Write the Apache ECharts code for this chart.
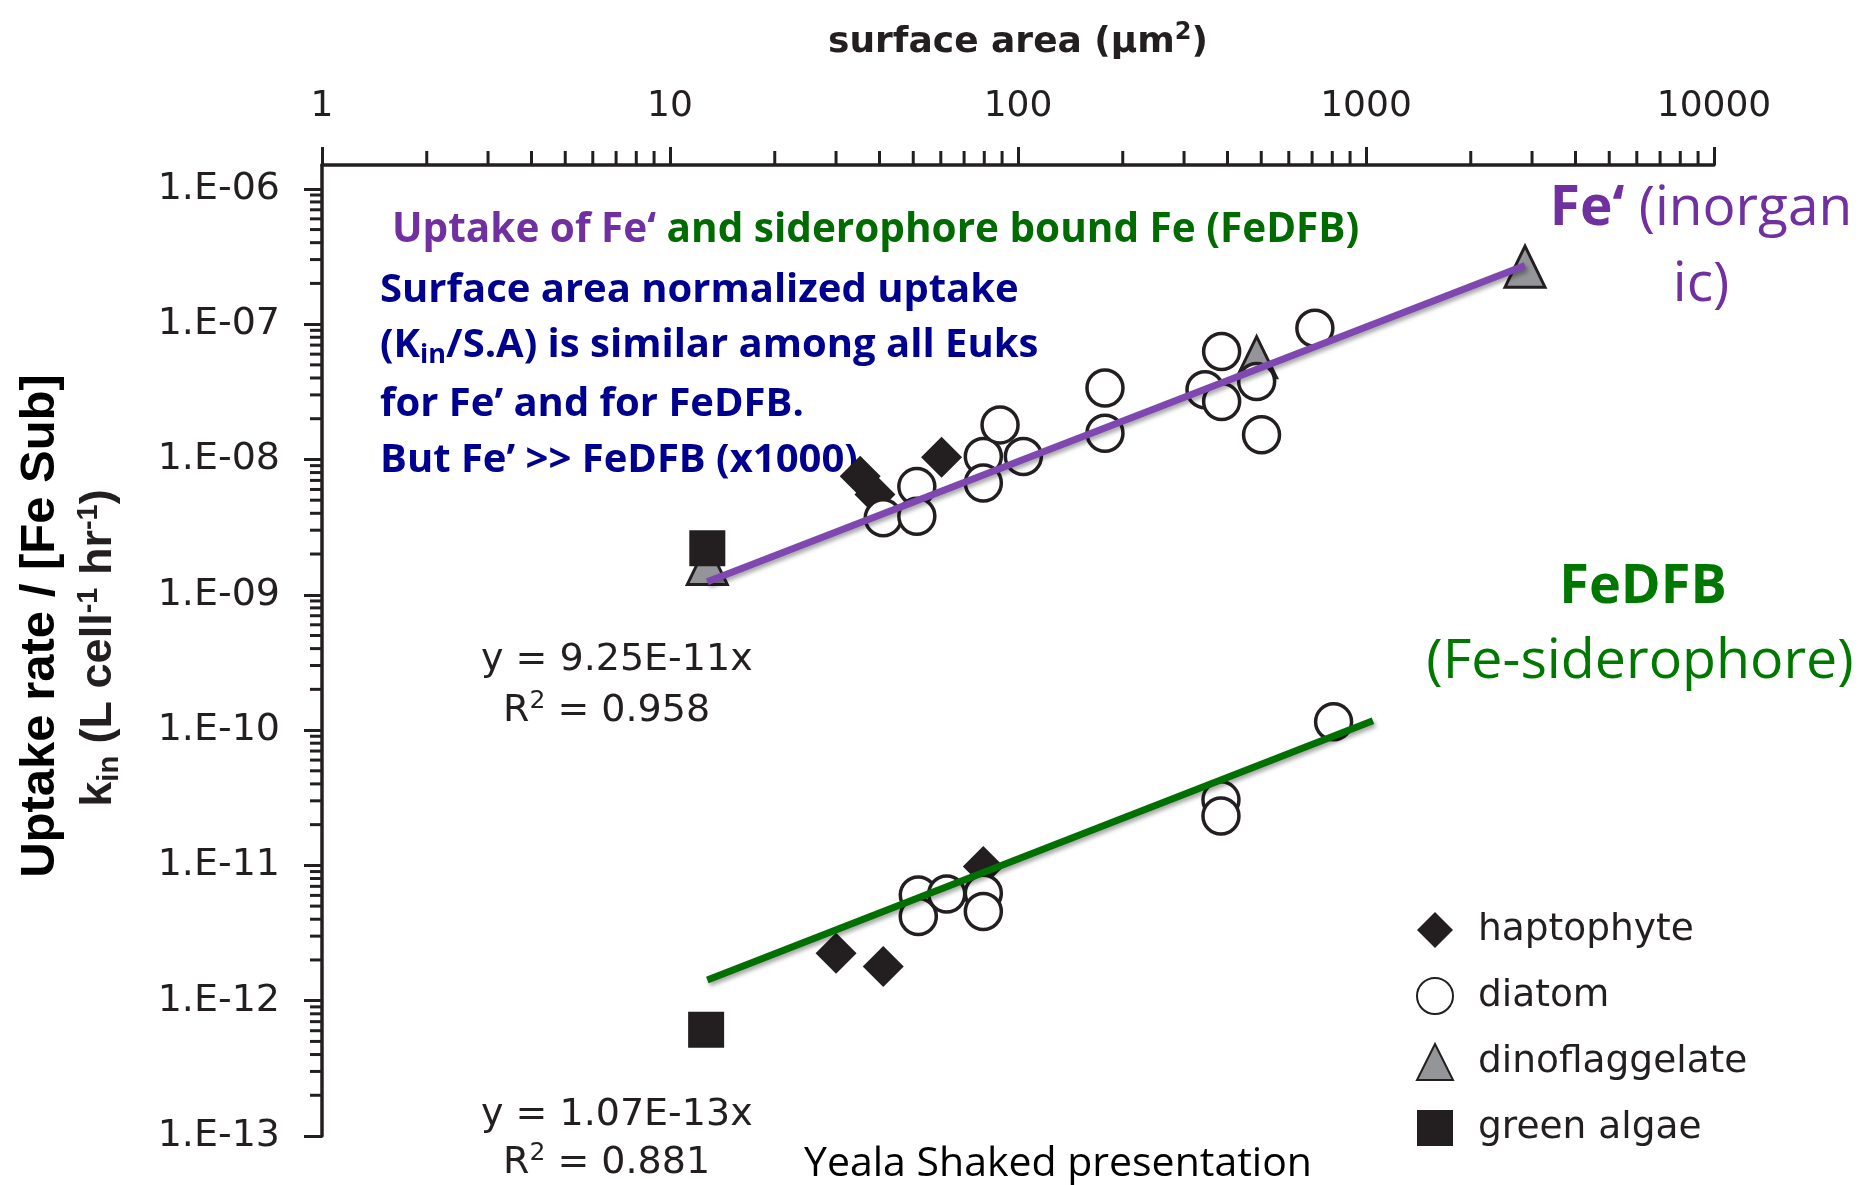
<!DOCTYPE html>
<html>
<head>
<meta charset="utf-8">
<script src="https://cdn.jsdelivr.net/npm/echarts@6.0.0/dist/echarts.min.js"></script>
<style>
  html, body { margin: 0; padding: 0; background: #ffffff; }
  #chart { width: 1864px; height: 1185px; }
</style>
</head>
<body>
<div id="chart"></div>
<script>
// tick labels
var xTickLabels = ['1', '10', '100', '1000', '10000'];
var yTickLabels = ['1.E-13', '1.E-12', '1.E-11', '1.E-10', '1.E-09', '1.E-08', '1.E-07', '1.E-06'];
// minor ticks: 2..9 inside each decade
var minorSteps = [2, 3, 4, 5, 6, 7, 8, 9];
var xDecades = [1, 10, 100, 1000];
var yDecades = [1e-13, 1e-12, 1e-11, 1e-10, 1e-9, 1e-8, 1e-7];
var xMin = 1, xMax = 10000, yMin = 1e-13, yMax = 1.5e-6;

// [surface area um2, kin L cell-1 hr-1], upper cloud = Fe', lower cloud = FeDFB
var haptophyte = [[35.2, 7.5e-9], [38.8, 5.5e-9], [60.3, 1.04e-8],
                  [30.0, 2.24e-12], [41.0, 1.79e-12], [79.5, 9.8e-12]];
var diatom = [[41.0, 3.7e-9], [51.2, 6.3e-9], [51.2, 3.8e-9], [79.5, 1.05e-8], [79.5, 6.7e-9],
              [88.8, 1.8e-8], [103.6, 1.05e-8], [177.8, 3.37e-8], [177.8, 1.56e-8], [344.6, 3.27e-8],
              [384.7, 6.28e-8], [384.7, 2.68e-8], [485, 3.77e-8], [501, 1.52e-8], [713, 9.33e-8],
              [51.7, 6.05e-12], [51.7, 4.19e-12], [62.4, 6.15e-12], [79.5, 6.22e-12], [79.5, 4.56e-12],
              [383, 3.05e-11], [383, 2.32e-11], [807, 1.15e-10]];
var dinoflaggelate = [[12.8, 1.69e-9], [485, 5.7e-8], [2864, 2.66e-7]];
var greenAlgae = [[12.8, 2.21e-9], [12.7, 6.1e-13]];
// regression lines (end points)
var fitFe = [[12.8, 1.25e-9], [2864, 2.71e-7]];
var fitFeDFB = [[12.8, 1.42e-12], [1047, 1.17e-10]];

var ink = '#231f20';

function minorList(decades) {
  var out = [];
  decades.forEach(function (d) {
    minorSteps.forEach(function (s) { out.push(d * s); });
  });
  return out;
}
var xMinor = minorList(xDecades).map(function (v) { return [v, yMax]; });
var yMinor = minorList(yDecades).map(function (v) { return [xMin, v]; });

function logIndex(v) {
  var l = Math.log10(v);
  var e = Math.round(l);
  return Math.abs(l - e) < 1e-6 ? e : null;
}

var myChart = echarts.init(document.getElementById('chart'));

var option = {
  animation: false,
  backgroundColor: '#ffffff',
  grid: { left: 322, right: 150, top: 165, bottom: 49 },
  xAxis: {
    type: 'log',
    logBase: 10,
    position: 'top',
    min: xMin,
    max: xMax,
    name: '{t|surface area (µm}{s|2}{t|)}',
    nameLocation: 'middle',
    nameGap: 100,
    nameTextStyle: {
      rich: {
        t: { fontFamily: 'DejaVu Sans', fontWeight: 'bold', fontSize: 36, color: ink, lineHeight: 44 },
        s: { fontFamily: 'DejaVu Sans', fontWeight: 'bold', fontSize: 24, color: ink, lineHeight: 24, verticalAlign: 'top' }
      }
    },
    axisLine: { lineStyle: { color: ink, width: 3.5 } },
    axisTick: { inside: false, length: 18, lineStyle: { color: ink, width: 3 } },
    axisLabel: {
      margin: 40,
      fontFamily: 'DejaVu Sans',
      fontSize: 36,
      color: ink,
      formatter: function (v) {
        var e = logIndex(v);
        return (e !== null && xTickLabels[e]) || '';
      }
    },
    splitLine: { show: false }
  },
  yAxis: {
    type: 'log',
    logBase: 10,
    min: yMin,
    max: yMax,
    axisLine: { lineStyle: { color: ink, width: 3.5 } },
    axisTick: { inside: false, length: 18, lineStyle: { color: ink, width: 3 } },
    axisLabel: {
      margin: 42,
      showMaxLabel: false,
      fontFamily: 'DejaVu Sans',
      fontSize: 38,
      color: ink,
      formatter: function (v) {
        var e = logIndex(v);
        return (e !== null && yTickLabels[e + 13]) || '';
      }
    },
    splitLine: { show: false }
  },
  legend: {
    orient: 'vertical',
    left: 1411,
    top: 906,
    itemWidth: 36,
    itemHeight: 36,
    itemGap: 28,
    selectedMode: false,
    data: ['haptophyte', 'diatom', 'dinoflaggelate', 'green algae'],
    textStyle: { fontFamily: 'DejaVu Sans', fontSize: 37.5, color: ink, padding: [0, 0, 0, 20] }
  },
  series: [
    {
      name: 'x minor ticks', type: 'custom', silent: true, data: xMinor,
      renderItem: function (params, api) {
        var p = api.coord([api.value(0), api.value(1)]);
        return { type: 'line', shape: { x1: p[0], y1: p[1], x2: p[0], y2: p[1] - 14 },
                 style: { stroke: ink, lineWidth: 3 } };
      }
    },
    {
      name: 'y minor ticks', type: 'custom', silent: true, data: yMinor,
      renderItem: function (params, api) {
        var p = api.coord([api.value(0), api.value(1)]);
        return { type: 'line', shape: { x1: p[0] - 12, y1: p[1], x2: p[0], y2: p[1] },
                 style: { stroke: ink, lineWidth: 3 } };
      }
    },
    {
      name: 'haptophyte', type: 'scatter', data: haptophyte,
      symbol: 'diamond', symbolSize: 41,
      itemStyle: { color: ink, opacity: 1 }
    },
    {
      name: 'dinoflaggelate', type: 'scatter', data: dinoflaggelate,
      symbol: 'triangle', symbolSize: [40, 41],
      itemStyle: { color: '#939598', borderColor: ink, borderWidth: 3, opacity: 1 }
    },
    {
      name: 'green algae', type: 'scatter', data: greenAlgae,
      symbol: 'rect', symbolSize: 36,
      itemStyle: { color: ink, opacity: 1 }
    },
    {
      name: 'diatom', type: 'scatter', data: diatom,
      symbol: 'circle', symbolSize: 36,
      itemStyle: { color: '#ffffff', borderColor: ink, borderWidth: 3.5, opacity: 1 }
    },
    {
      name: 'Fe fit', type: 'line', data: fitFe, symbol: 'none', z: 5,
      lineStyle: { color: '#7f48b1', width: 7, shadowColor: 'rgba(0,0,0,0.35)', shadowBlur: 4, shadowOffsetX: 2, shadowOffsetY: 3 }
    },
    {
      name: 'FeDFB fit', type: 'line', data: fitFeDFB, symbol: 'none', z: 5,
      lineStyle: { color: '#007000', width: 7, shadowColor: 'rgba(0,0,0,0.35)', shadowBlur: 4, shadowOffsetX: 2, shadowOffsetY: 3 }
    }
  ],
  graphic: [
    // y axis title, two lines
    {
      type: 'text', x: 40, y: 626, rotation: Math.PI / 2,
      style: { text: 'Uptake rate / [Fe Sub]', align: 'center', verticalAlign: 'middle',
               fontFamily: 'Liberation Sans', fontWeight: 'bold', fontSize: 49, fill: '#000000' }
    },
    {
      type: 'text', x: 99, y: 648, rotation: Math.PI / 2,
      style: {
        text: '{k|k}{sub|in}{k| (L cell}{sup|-1}{k| hr}{sup|-1}{k|)}',
        align: 'center', verticalAlign: 'middle',
        rich: {
          k: { fontFamily: 'Liberation Sans', fontWeight: 'bold', fontSize: 45, fill: ink, lineHeight: 50 },
          sub: { fontFamily: 'Liberation Sans', fontWeight: 'bold', fontSize: 29, fill: ink, lineHeight: 24, verticalAlign: 'bottom' },
          sup: { fontFamily: 'Liberation Sans', fontWeight: 'bold', fontSize: 29, fill: ink, lineHeight: 24, verticalAlign: 'top' }
        }
      }
    },
    // annotation block
    {
      type: 'text', x: 392, y: 230,
      style: {
        text: '{p|Uptake of Fe‘}{g| and siderophore bound Fe (FeDFB)}',
        align: 'left', verticalAlign: 'middle',
        rich: {
          p: { fontFamily: 'Open Sans', fontWeight: 'bold', fontSize: 40.5, fill: '#7030a0' },
          g: { fontFamily: 'Open Sans', fontWeight: 'bold', fontSize: 40.5, fill: '#006b00' }
        }
      }
    },
    {
      type: 'text', x: 380, y: 291,
      style: { text: 'Surface area normalized uptake', align: 'left', verticalAlign: 'middle',
               fontFamily: 'Open Sans', fontWeight: 'bold', fontSize: 40, fill: '#000090' }
    },
    {
      type: 'text', x: 380, y: 346,
      style: {
        text: '{m|(K}{s|in}{m|/S.A) is similar among all Euks}',
        align: 'left', verticalAlign: 'middle',
        rich: {
          m: { fontFamily: 'Open Sans', fontWeight: 'bold', fontSize: 40, fill: '#000090', lineHeight: 46 },
          s: { fontFamily: 'Open Sans', fontWeight: 'bold', fontSize: 27, fill: '#000090', lineHeight: 16, verticalAlign: 'bottom' }
        }
      }
    },
    {
      type: 'text', x: 380, y: 405,
      style: { text: 'for Fe’ and for FeDFB.', align: 'left', verticalAlign: 'middle',
               fontFamily: 'Open Sans', fontWeight: 'bold', fontSize: 40, fill: '#000090' }
    },
    {
      type: 'text', x: 380, y: 461,
      style: { text: 'But Fe’ >> FeDFB (x1000)', align: 'left', verticalAlign: 'middle',
               fontFamily: 'Open Sans', fontWeight: 'bold', fontSize: 40, fill: '#000090' }
    },
    // series labels on the right
    {
      type: 'text', x: 1701, y: 209,
      style: {
        text: '{b|Fe‘}{r| (inorgan}',
        align: 'center', verticalAlign: 'middle',
        rich: {
          b: { fontFamily: 'Open Sans', fontWeight: 'bold', fontSize: 55, fill: '#7030a0' },
          r: { fontFamily: 'Open Sans', fontSize: 55, fill: '#7030a0' }
        }
      }
    },
    {
      type: 'text', x: 1701, y: 285,
      style: { text: 'ic)', align: 'center', verticalAlign: 'middle',
               fontFamily: 'Open Sans', fontSize: 55, fill: '#7030a0' }
    },
    {
      type: 'text', x: 1643, y: 588,
      style: { text: 'FeDFB', align: 'center', verticalAlign: 'middle',
               fontFamily: 'Open Sans', fontWeight: 'bold', fontSize: 54, fill: '#007800' }
    },
    {
      type: 'text', x: 1640, y: 662,
      style: { text: '(Fe-siderophore)', align: 'center', verticalAlign: 'middle',
               fontFamily: 'Open Sans', fontSize: 55.5, fill: '#007800' }
    },
    // regression equations
    {
      type: 'text', x: 481, y: 660,
      style: { text: 'y = 9.25E-11x', align: 'left', verticalAlign: 'middle',
               fontFamily: 'DejaVu Sans', fontSize: 38, fill: ink }
    },
    {
      type: 'text', x: 503, y: 711,
      style: {
        text: '{t|R}{s|2}{t| = 0.958}', align: 'left', verticalAlign: 'middle',
        rich: {
          t: { fontFamily: 'DejaVu Sans', fontSize: 38, fill: ink, lineHeight: 44 },
          s: { fontFamily: 'DejaVu Sans', fontSize: 25, fill: ink, lineHeight: 24, verticalAlign: 'top' }
        }
      }
    },
    {
      type: 'text', x: 481, y: 1115,
      style: { text: 'y = 1.07E-13x', align: 'left', verticalAlign: 'middle',
               fontFamily: 'DejaVu Sans', fontSize: 38, fill: ink }
    },
    {
      type: 'text', x: 503, y: 1163,
      style: {
        text: '{t|R}{s|2}{t| = 0.881}', align: 'left', verticalAlign: 'middle',
        rich: {
          t: { fontFamily: 'DejaVu Sans', fontSize: 38, fill: ink, lineHeight: 44 },
          s: { fontFamily: 'DejaVu Sans', fontSize: 25, fill: ink, lineHeight: 24, verticalAlign: 'top' }
        }
      }
    },
    {
      type: 'text', x: 804, y: 1164,
      style: { text: 'Yeala Shaked presentation', align: 'left', verticalAlign: 'middle',
               fontFamily: 'Open Sans', fontSize: 41, fill: '#000000' }
    }
  ]
};

myChart.setOption(option);
</script>
</body>
</html>
